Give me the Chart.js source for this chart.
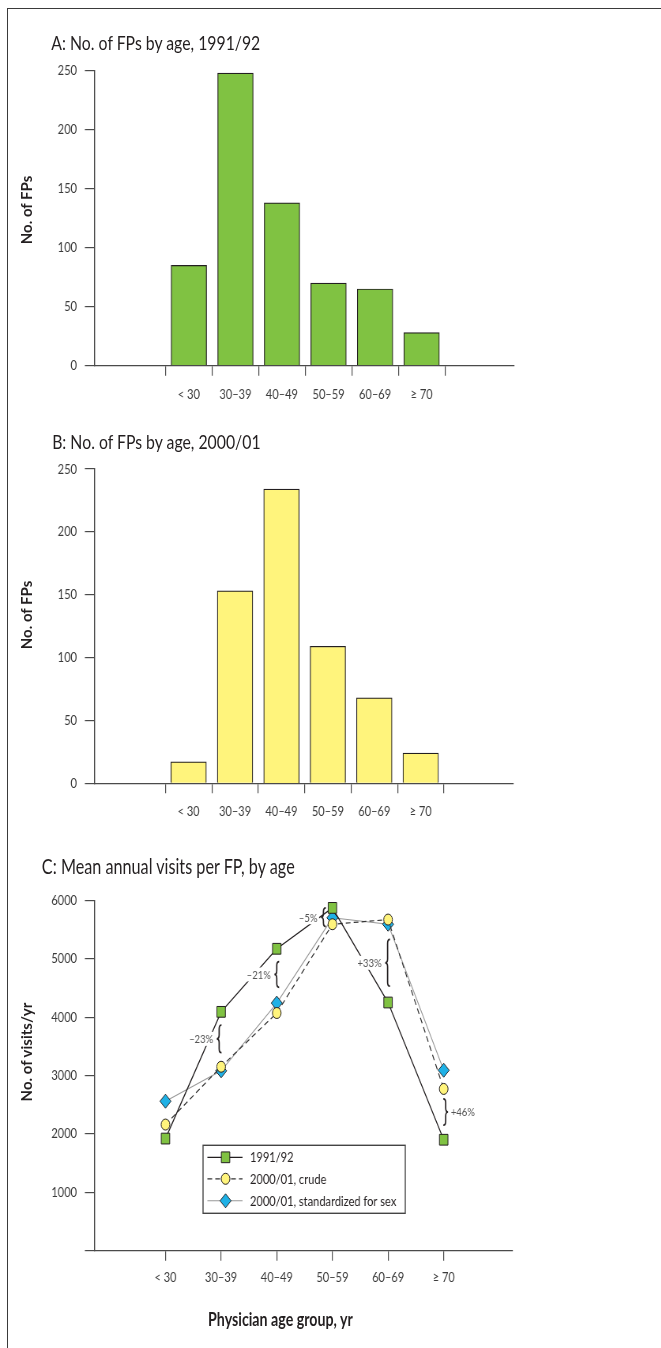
<!DOCTYPE html>
<html>
<head>
<meta charset="utf-8">
<script src="https://cdn.jsdelivr.net/npm/chart.js@4.4.1/dist/chart.umd.min.js"></script>
<style>
  html, body { margin: 0; padding: 0; background: #fff; }
  body { width: 661px; height: 1348px; position: relative; overflow: hidden; font-family: Lato, "Open Sans", sans-serif; color: #231f20; }
  .frame { position: absolute; left: 7px; top: 8px; right: -2px; bottom: -2px; border-left: 1px solid #3a3a3a; border-top: 1px solid #3a3a3a; }
  /* the figure is drawn 837px wide and squeezed to the page, like the original */
  #fig { position: absolute; left: 0; top: 0; width: 837px; height: 1348px; transform: scaleX(0.79); transform-origin: 0 0; }
  canvas { position: absolute; left: 0; }
  .title { position: absolute; font-size: 20px; line-height: 24px; white-space: nowrap; transform: translateY(-50%); }
  .ytitle { position: absolute; font-size: 15px; font-weight: 700; line-height: 18px; white-space: nowrap; transform: translate(-50%, -50%) rotate(-90deg); }
  .xtitle { position: absolute; font-size: 18px; font-weight: 700; line-height: 22px; white-space: nowrap; transform: translate(-50%, -50%); }
</style>
</head>
<body>
<div class="frame"></div>

<div id="fig">
  <div class="title" style="left:65px; top:42px;">A: No. of FPs by age, 1991/92</div>
  <canvas id="chartA" width="837" height="420" style="top:0px;"></canvas>

  <div class="title" style="left:66px; top:441px;">B: No. of FPs by age, 2000/01</div>
  <canvas id="chartB" width="837" height="420" style="top:420px;"></canvas>

  <div class="title" style="left:53px; top:866px; font-size:20.5px;">C: Mean annual visits per FP, by age</div>
  <canvas id="chartC" width="837" height="470" style="top:840px;"></canvas>
  <div class="xtitle" style="left:355px; top:1319px;">Physician age group, yr</div>
</div>

<div class="ytitle" style="left:26px; top:210px;">No. of FPs</div>
<div class="ytitle" style="left:26px; top:615px;">No. of FPs</div>
<div class="ytitle" style="left:26px; top:1052px;">No. of visits/yr</div>

<script>
// Data

const ageGroups = ["< 30", "30–39", "40–49", "50–59", "60–69", "≥ 70"];

const fps1991 = [85, 248, 138, 70, 65, 28];
const fps2000 = [17, 153, 234, 109, 68, 24];
const fpTicks = [0, 50, 100, 150, 200, 250];

const visitSeries = ["1991/92", "2000/01, crude", "2000/01, standardized for sex"];
const visits1991 = [1920, 4090, 5170, 5870, 4250, 1900];
const visitsCrude = [2160, 3150, 4070, 5590, 5670, 2770];
const visitsStd = [2560, 3080, 4240, 5700, 5590, 3090];
const visitTicks = [0, 1000, 2000, 3000, 4000, 5000, 6000];

// percent change between 1991/92 and 2000/01 crude, with the span of each brace
const changeLabels = ["–23%", "–21%", "–5%", "+33%", "+46%"];
const changeAt = [1, 2, 3, 4, 5];
const changeFrom = [3390, 4510, 5550, 4530, 2150];
const changeTo = [3865, 4950, 5870, 5330, 2600];


const FONT = "Lato, 'Open Sans', sans-serif";
const AXIS = "#4a4a4a";
const INK = "#231f20";
const GREEN = "#80c242";
const YELLOW = "#fff47c";
const BLUE = "#1fb1e6";

Chart.defaults.font.family = FONT;
Chart.defaults.color = "#3a3a3a";
Chart.defaults.animation = false;

const X_MIN = -1.27;
const X_MAX = 6.24;

function xAxis(height, pad) {
    return {
        type: "linear",
        min: X_MIN,
        max: X_MAX,
        afterBuildTicks: a => { a.ticks = ageGroups.map((g, i) => ({ value: i })); },
        afterFit: a => { a.height = height; },
        border: { color: AXIS, width: 1.2 },
        grid: { drawOnChartArea: false, tickLength: 10, color: AXIS, lineWidth: 1.2 },
        ticks: {
            callback: (v, i) => ageGroups[i],
            autoSkip: false,
            maxRotation: 0,
            padding: pad,
            font: { size: 14 }
        }
    };
}

function yAxis(max, tickValues, hideZero) {
    return {
        min: 0,
        max: max,
        afterBuildTicks: a => { a.ticks = tickValues.map(v => ({ value: v })); },
        afterFit: a => { a.width = 120; },
        border: { color: AXIS, width: 1.4 },
        grid: { drawOnChartArea: false, tickLength: 12.6, color: AXIS, lineWidth: 1.2 },
        ticks: {
            callback: v => (hideZero && v === 0) ? "" : String(v),
            padding: 10,
            font: { size: 14 }
        }
    };
}

function fpChart(id, values, colour, areaTop, axisHeight, rightPad) {
    return new Chart(document.getElementById(id), {
        type: "bar",
        data: {
            datasets: [{
                data: values.map((v, i) => ({ x: i, y: v })),
                backgroundColor: colour,
                borderColor: INK,
                borderWidth: 1.2,
                borderSkipped: "bottom",
                barThickness: 45
            }]
        },
        options: {
            responsive: false,
            layout: { padding: { top: areaTop, right: rightPad, left: 0, bottom: 0 } },
            plugins: { legend: { display: false }, tooltip: { enabled: false } },
            scales: {
                x: xAxis(axisHeight, 10),
                y: yAxis(250, fpTicks, false)
            }
        }
    });
}

fpChart("chartA", fps1991, GREEN, 70.7, 54.3, 186);
fpChart("chartB", fps2000, YELLOW, 49, 56.7, 187.5);


// Braces and % change labels

const braceShift = [-2.5, 0, -11.4, -0.6, 2.5];
const braceRight = [false, false, false, false, true];

function drawBrace(ctx, x, y1, y2, dir) {
    const ym = (y1 + y2) / 2;
    const w = 3 * dir;
    const r = Math.min(4, (y2 - y1) / 4);
    ctx.beginPath();
    ctx.moveTo(x + w, y1);
    ctx.quadraticCurveTo(x, y1, x, y1 + r);
    ctx.lineTo(x, ym - r);
    ctx.quadraticCurveTo(x, ym, x - w, ym);
    ctx.quadraticCurveTo(x, ym, x, ym + r);
    ctx.lineTo(x, y2 - r);
    ctx.quadraticCurveTo(x, y2, x + w, y2);
    ctx.stroke();
}

const changePlugin = {
    id: "changes",
    afterDatasetsDraw(chart) {
        const { ctx, scales: { x, y } } = chart;
        ctx.save();
        ctx.font = "12px " + FONT;
        ctx.textBaseline = "middle";
        changeLabels.forEach((text, k) => {
            const bx = x.getPixelForValue(changeAt[k]) + braceShift[k];
            const y1 = y.getPixelForValue(changeTo[k]);
            const y2 = y.getPixelForValue(changeFrom[k]);
            const ym = (y1 + y2) / 2;
            const right = braceRight[k];

            ctx.strokeStyle = INK;
            ctx.lineWidth = 1.7;
            drawBrace(ctx, bx, y1, y2, right ? -1 : 1);

            const w = ctx.measureText(text).width;
            const tx = right ? bx + 6.5 : bx - 7.5 - w;
            ctx.fillStyle = "#fff";
            ctx.fillRect(tx - 2, ym - 7, w + 4, 14);
            ctx.fillStyle = "#555";
            ctx.fillText(text, tx, ym + 0.5);
        });
        ctx.restore();
    }
};

const boxLegend = {
    id: "boxLegend",
    afterDatasetsDraw(chart) {
        const { ctx, chartArea } = chart;
        const left = chartArea.left + 137;
        const top = chartArea.top + 245;
        const rows = [12, 33.5, 55.5];
        ctx.save();
        ctx.fillStyle = "#fff";
        ctx.fillRect(left, top, 256, 68);
        ctx.strokeStyle = "#444";
        ctx.lineWidth = 1.4;
        ctx.strokeRect(left, top, 256, 68);

        ctx.font = "14px " + FONT;
        ctx.textBaseline = "middle";
        chart.data.datasets.forEach((ds, i) => {
            const yy = top + rows[i];
            ctx.strokeStyle = ds.borderColor;
            ctx.lineWidth = ds.borderWidth;
            ctx.setLineDash(ds.borderDash || []);
            ctx.beginPath();
            ctx.moveTo(left + 5.5, yy);
            ctx.lineTo(left + 50, yy);
            ctx.stroke();
            ctx.setLineDash([]);
            ctx.fillStyle = ds.pointBackgroundColor;
            ctx.strokeStyle = INK;
            ctx.lineWidth = 1;
            Chart.helpers.drawPoint(ctx, {
                pointStyle: ds.pointStyle,
                radius: ds.pointRadius,
                rotation: 0,
                borderWidth: 1
            }, left + 28.5, yy);
            ctx.fillStyle = INK;
            ctx.fillText(ds.label, left + 59.5, yy + 0.5);
        });
        ctx.restore();
    }
};

function series(values) {
    return values.map((v, i) => ({ x: i, y: v }));
}

new Chart(document.getElementById("chartC"), {
    type: "line",
    data: {
        datasets: [
            {
                label: visitSeries[0],
                data: series(visits1991),
                borderColor: INK,
                borderWidth: 1.3,
                pointStyle: "rect",
                pointRadius: 7.6,
                pointBackgroundColor: GREEN,
                pointBorderColor: INK,
                pointBorderWidth: 1
            },
            {
                label: visitSeries[1],
                data: series(visitsCrude),
                borderColor: "#333",
                borderWidth: 1.2,
                borderDash: [6, 4],
                pointStyle: "circle",
                pointRadius: 5.5,
                pointBackgroundColor: YELLOW,
                pointBorderColor: INK,
                pointBorderWidth: 1
            },
            {
                label: visitSeries[2],
                data: series(visitsStd),
                borderColor: "#999",
                borderWidth: 1.1,
                pointStyle: "rectRot",
                pointRadius: 7,
                pointBackgroundColor: BLUE,
                pointBorderColor: INK,
                pointBorderWidth: 1
            }
        ]
    },
    options: {
        responsive: false,
        layout: { padding: { top: 60.3, right: 188, left: 0, bottom: 0 } },
        plugins: { legend: { display: false }, tooltip: { enabled: false } },
        scales: {
            x: xAxis(59.3, 8),
            y: yAxis(6000, visitTicks, true)
        }
    },
    plugins: [changePlugin, boxLegend]
});
</script>
</body>
</html>
